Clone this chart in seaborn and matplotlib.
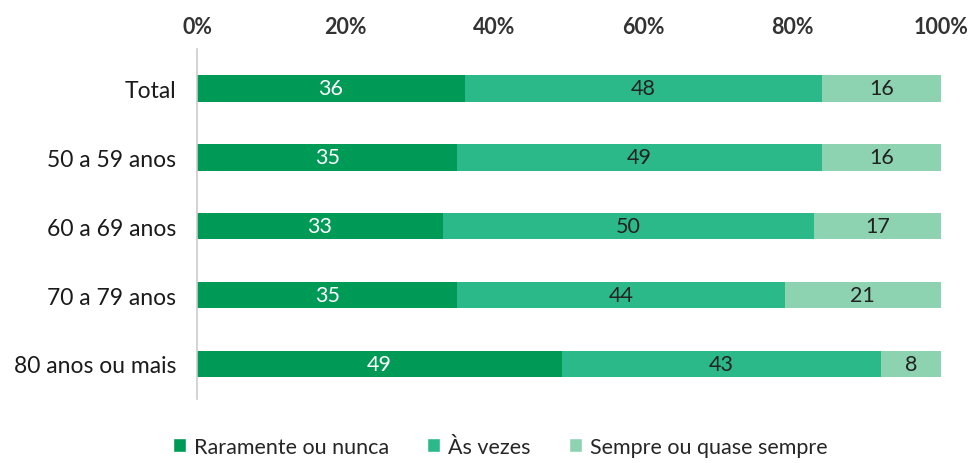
import numpy as np
import pandas as pd
import matplotlib.pyplot as plt
import seaborn as sns
from matplotlib.patches import Patch

# Dados
categorias = ['Total', '50 a 59 anos', '60 a 69 anos', '70 a 79 anos', '80 anos ou mais']
raramente = [36, 35, 33, 35, 49]
as_vezes = [48, 49, 50, 44, 43]
sempre = [16, 16, 17, 21, 8]
series = ['Raramente ou nunca', 'Às vezes', 'Sempre ou quase sempre']
cores = ['#009a57', '#2bb98a', '#8dd2b1']
ticks = [0, 20, 40, 60, 80, 100]

sns.set_theme(style='white')
plt.rcParams['font.family'] = ['Lato', 'DejaVu Sans']

df = pd.DataFrame({'cat': categorias, 'r': raramente, 'a': as_vezes, 's': sempre})
df['c1'] = df['r']
df['c2'] = df['r'] + df['a']
df['c3'] = df['c2'] + df['s']

fig = plt.figure(figsize=(9.73, 4.64), dpi=100)
ax = fig.add_axes([0.2025, 0.138, 0.7645, 0.754])

# barras empilhadas: desenha do total acumulado para o menor
for col, cor in zip(['c3', 'c2', 'c1'], cores[::-1]):
    sns.barplot(data=df, x=col, y='cat', orient='h', color=cor, width=0.39,
                saturation=1, ax=ax, edgecolor='none')

# rótulos de valor
fs = 15.5
for i, row in df.iterrows():
    ax.text(row['r'] / 2, i, str(row['r']), ha='center', va='center',
            color='white', fontsize=fs)
    ax.text(row['c1'] + row['a'] / 2, i, str(row['a']), ha='center', va='center',
            color='#222222', fontsize=fs)
    ax.text(row['c2'] + row['s'] / 2, i, str(row['s']), ha='center', va='center',
            color='#222222', fontsize=fs)

ax.set_xlim(0, 100)
ax.set_ylim(4.507, -0.565)
ax.set_xticks(ticks)
ax.set_xticklabels([f'{t}%' for t in ticks], fontsize=fs, fontweight='bold', color='#333333')
ax.xaxis.tick_top()
ax.tick_params(axis='x', length=0, pad=9)
ax.tick_params(axis='y', length=0, pad=15, labelsize=16.5, labelcolor='#1a1a1a')
ax.set_xlabel('')
ax.set_ylabel('')
for s in ['top', 'right', 'bottom']:
    ax.spines[s].set_visible(False)
ax.spines['left'].set_color('#cccccc')
ax.spines['left'].set_linewidth(1.2)

handles = [Patch(facecolor=c, label=l) for c, l in zip(cores, series)]
fig.legend(handles=handles, loc='center', bbox_to_anchor=(0.514, 0.035), ncol=3,
           frameon=False, fontsize=fs, handlelength=0.6, handleheight=0.6,
           handletextpad=0.35, columnspacing=1.8)

fig.savefig('out.png', dpi=100)
